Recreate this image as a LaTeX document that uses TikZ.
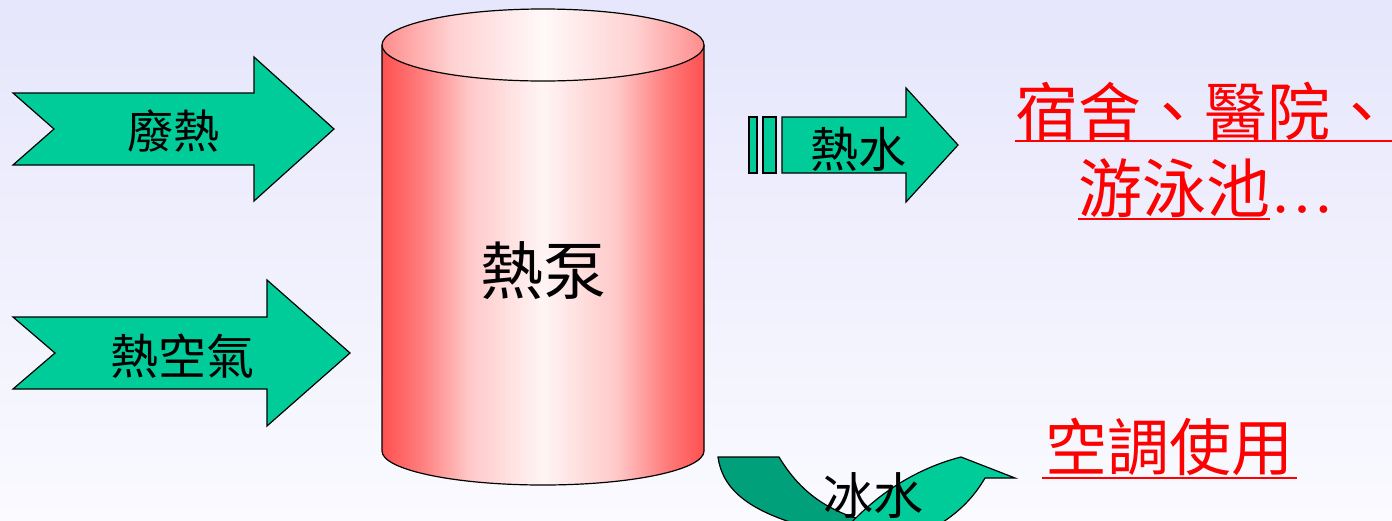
\documentclass[tikz,border=0pt]{standalone}
\usepackage{fontspec}
\setmainfont{Noto Sans CJK TC}
\newfontfamily\latinserif{Liberation Serif}
\definecolor{bgtop}{RGB}{230,230,252}
\definecolor{bgbot}{RGB}{250,250,255}
\definecolor{agreen}{RGB}{0,204,153}
\definecolor{dgreen}{RGB}{0,160,122}
\definecolor{cylred}{RGB}{255,80,80}
\definecolor{cylredb}{RGB}{255,125,125}
\definecolor{cylpink}{RGB}{255,200,200}
\definecolor{cylwhite}{RGB}{255,245,245}
\definecolor{topred}{RGB}{255,140,140}
\definecolor{toppink}{RGB}{255,210,210}
\definecolor{topwhite}{RGB}{255,249,249}
\definecolor{txtred}{RGB}{255,0,0}
\pgfdeclarehorizontalshading{cylbody}{100bp}{color(0bp)=(cylred); color(25bp)=(cylred); color(31bp)=(cylredb); color(38.5bp)=(cylpink); color(50bp)=(cylwhite); color(61.5bp)=(cylpink); color(69bp)=(cylredb); color(75bp)=(cylred); color(100bp)=(cylred)}
\pgfdeclarehorizontalshading{cyltop}{100bp}{color(0bp)=(topred); color(25bp)=(topred); color(36bp)=(toppink); color(50bp)=(topwhite); color(64bp)=(toppink); color(75bp)=(topred); color(100bp)=(topred)}
\tikzset{
  shapeline/.style={draw=black, line width=1.2pt, line join=miter},
  garrow/.style={shapeline, fill=agreen},
  blk/.style={inner sep=0pt, anchor=base, text=black},
  redtxt/.style={inner sep=0pt, anchor=base, text=txtred},
  uline/.style={draw=txtred, line width=2.8pt}
}
\begin{document}
\begin{tikzpicture}[x=1pt,y=-1pt]
\useasboundingbox (0,0) rectangle (1392,520);
\clip (0,0) rectangle (1392,520);
\fill[top color=bgtop, bottom color=bgbot] (0,0) rectangle (1392,520);

% cylinder
\path[shading=cylbody] (382,45) -- (382,451) arc[start angle=180,end angle=0,x radius=161,y radius=34] -- (704,45) -- cycle;
\draw[line width=1.2pt] (382,45) -- (382,451) arc[start angle=180,end angle=0,x radius=161,y radius=34] -- (704,45);
\path[shading=cyltop] (543,45) ellipse[x radius=161, y radius=36];
\draw[line width=1.2pt] (543,45) ellipse[x radius=161, y radius=36];
\node[blk, font=\fontsize{63pt}{63pt}\selectfont] (pump) at (543,294) {熱泵};

% input arrows
\draw[garrow] (13,93) -- (254,93) -- (254,57) -- (334,129) -- (254,201) -- (254,165) -- (13,165) -- (54,129) -- cycle;
\node[blk, font=\fontsize{46pt}{46pt}\selectfont] (waste) at (173,148) {廢熱};
\draw[garrow] (13,317) -- (267,317) -- (267,280) -- (350,353) -- (267,426) -- (267,389) -- (13,389) -- (55,353) -- cycle;
\node[blk, font=\fontsize{48pt}{48pt}\selectfont] (hotair) at (182,374) {熱空氣};

% hot water arrow
\draw[garrow] (749,117) rectangle (757,173);
\draw[garrow] (763,117) rectangle (776,173);
\draw[garrow] (782,117) -- (906,117) -- (906,88) -- (958,145) -- (906,202) -- (906,173) -- (782,173) -- cycle;
\node[blk, font=\fontsize{48pt}{48pt}\selectfont] (hotw) at (858,167) {熱水};

% curved arrow (cold water)
\draw[shapeline, fill=dgreen] (718,457) -- (779,457) .. controls (800,492) and (828,512) .. (870,522) -- (870,540) -- (790,540) -- (790,522) .. controls (745,507) and (722,487) .. (718,457) -- cycle;
\draw[shapeline, fill=agreen] (850,524) .. controls (880,492) and (918,468) .. (961,457) -- (1015,478) -- (985,478) .. controls (975,495) and (962,510) .. (940,524) -- (940,540) -- (850,540) -- cycle;
\node[blk, font=\fontsize{50pt}{50pt}\selectfont] (coldw) at (873,514) {冰水};

% red texts
\node[redtxt, font=\fontsize{63pt}{63pt}\selectfont] (use1) at (1204,135) {宿舍、醫院、};
\node[redtxt, font=\fontsize{64pt}{64pt}\selectfont, anchor=base west] (use2) at (1078,212) {游泳池};
\node[redtxt, font=\latinserif\fontsize{64pt}{64pt}\selectfont, anchor=base west] (use2b) at (use2.base east) {…};
\node[redtxt, font=\fontsize{62pt}{62pt}\selectfont] (ac) at (1169,470) {空調使用};
\draw[uline] (1015,141) -- (1392,141);
\draw[uline] (1078,219) -- (1270,219);
\draw[uline] (1042,478) -- (1297,478);
\end{tikzpicture}
\end{document}
